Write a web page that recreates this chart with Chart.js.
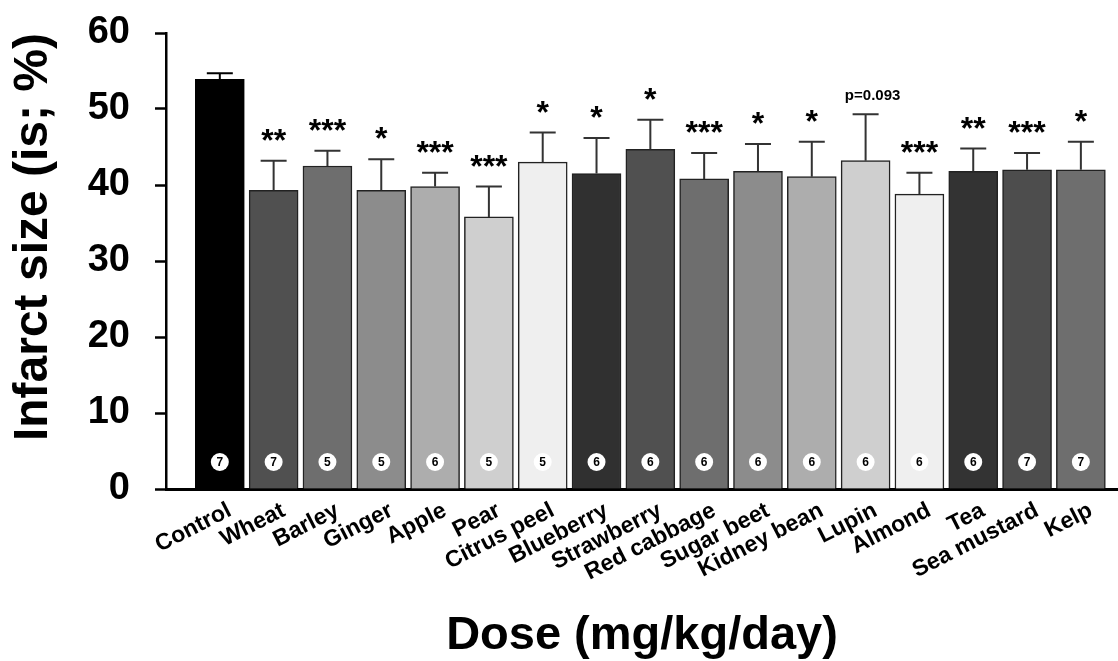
<!DOCTYPE html>
<html lang="en">
<head>
<meta charset="UTF-8">
<title>Infarct size by dose</title>
<script src="https://cdn.jsdelivr.net/npm/chart.js@4.4.1/dist/chart.umd.min.js"></script>
<style>
    html, body { margin: 0; padding: 0; background: #fff; }
</style>
</head>
<body>

<canvas id="chart" width="1118" height="661"></canvas>

<script>
    // values (mean and upper error bar, % infarct size)
    const foods = ['Control', 'Wheat', 'Barley', 'Ginger', 'Apple', 'Pear', 'Citrus peel', 'Blueberry',
        'Strawberry', 'Red cabbage', 'Sugar beet', 'Kidney bean', 'Lupin', 'Almond', 'Tea', 'Sea mustard', 'Kelp'];
    const infarct = [53.9, 39.3, 42.5, 39.3, 39.8, 35.8, 43.0, 41.5, 44.7, 40.8, 41.8, 41.1, 43.2, 38.8, 41.8, 42.0, 42.0];
    const errUp = [0.8, 3.9, 2.0, 4.1, 1.8, 4.0, 3.9, 4.7, 3.9, 3.4, 3.6, 4.6, 6.1, 2.8, 3.0, 2.2, 3.7];
    const nRats = [7, 7, 5, 5, 6, 5, 5, 6, 6, 6, 6, 6, 6, 6, 6, 7, 7];
    const sig = ['', '**', '***', '*', '***', '***', '*', '*', '*', '***', '*', '*', 'p=0.093', '***', '**', '***', '*'];
    const yTicks = [0, 10, 20, 30, 40, 50, 60];

    const barFill = ['#000000', '#505050', '#6e6e6e', '#8c8c8c', '#adadad', '#cfcfcf', '#efefef', '#303030',
        '#505050', '#6e6e6e', '#8c8c8c', '#adadad', '#cfcfcf', '#efefef', '#333333', '#4d4d4d', '#6e6e6e'];

    const FONT = "'Liberation Sans', Arial, sans-serif";

    const overlay = {
        id: 'overlay',
        afterDatasetsDraw(chart) {
            const ctx = chart.ctx;
            const y = chart.scales.y;
            const bars = chart.getDatasetMeta(0).data;
            ctx.save();
            bars.forEach((bar, i) => {
                const top = y.getPixelForValue(infarct[i] + errUp[i]);
                // error bar, upper arm only
                ctx.strokeStyle = i === 0 ? '#000' : '#333';
                ctx.lineWidth = 2;
                ctx.beginPath();
                ctx.moveTo(bar.x, bar.y);
                ctx.lineTo(bar.x, top);
                ctx.moveTo(bar.x - 13, top);
                ctx.lineTo(bar.x + 13, top);
                ctx.stroke();

                ctx.fillStyle = '#000';
                ctx.textAlign = 'center';
                if (sig[i].startsWith('p')) {
                    ctx.font = 'bold 15px ' + FONT;
                    ctx.textBaseline = 'middle';
                    ctx.fillText(sig[i], bar.x + 7, top - 18);
                } else if (sig[i]) {
                    ctx.font = 'bold 32px ' + FONT;
                    ctx.textBaseline = 'alphabetic';
                    ctx.fillText(sig[i], bar.x, top - 10);
                }

                // n per group
                const cy = y.bottom - 27;
                ctx.beginPath();
                ctx.arc(bar.x, cy, 9, 0, Math.PI * 2);
                ctx.fillStyle = '#fff';
                ctx.fill();
                ctx.fillStyle = '#000';
                ctx.font = 'bold 12px ' + FONT;
                ctx.textBaseline = 'middle';
                ctx.fillText(String(nRats[i]), bar.x, cy + 1);
            });
            ctx.restore();
        }
    };

    const ctx = document.getElementById('chart').getContext('2d');
    const myChart = new Chart(ctx, {
        type: 'bar',
        data: {
            datasets: [{
                data: infarct.map((v, i) => ({x: i, y: v})),
                backgroundColor: barFill,
                borderColor: barFill.map((c, i) => i === 0 ? '#000' : '#222'),
                borderWidth: 1.5,
                barThickness: 49
            }]
        },
        options: {
            responsive: false,
            animation: false,
            layout: {padding: {top: 33, right: 0, bottom: 0, left: 0}},
            plugins: {legend: {display: false}, tooltip: {enabled: false}},
            scales: {
                x: {
                    type: 'linear',
                    offset: false,
                    min: -1.0,
                    max: 16.69,
                    afterBuildTicks: s => { s.ticks = foods.map((f, i) => ({value: i})); },
                    afterFit: s => { s.height = 172; },
                    grid: {display: false, offset: false},
                    border: {display: true, color: '#000', width: 3},
                    ticks: {
                        autoSkip: false,
                        maxRotation: 27,
                        minRotation: 27,
                        padding: 0,
                        labelOffset: 10,
                        color: '#000',
                        font: {family: FONT, size: 23, weight: 'bold'},
                        callback: v => foods[v]
                    },
                    title: {
                        display: true,
                        text: 'Dose (mg/kg/day)',
                        color: '#000',
                        font: {family: FONT, size: 47, weight: 'bold', lineHeight: 1},
                        padding: {top: 0, bottom: 1}
                    }
                },
                y: {
                    min: 0,
                    max: 60,
                    afterBuildTicks: s => { s.ticks = yTicks.map(v => ({value: v})); },
                    // fixed axis position; tick padding must not push the plot top down
                    afterFit: s => { s.width = 166; s.paddingTop = 0; s.paddingBottom = 0; },
                    grid: {display: true, drawOnChartArea: false, drawTicks: true, tickLength: 11, tickColor: '#000', tickWidth: 2.5},
                    border: {display: true, color: '#000', width: 2.5},
                    ticks: {
                        padding: 25,
                        color: '#000',
                        font: {family: FONT, size: 38, weight: 'bold'}
                    },
                    title: {
                        display: true,
                        text: 'Infarct size (is; %)',
                        align: 'end',
                        color: '#000',
                        font: {family: FONT, size: 48, weight: 'bold', lineHeight: 1.2},
                        padding: {top: 5, bottom: 0}
                    }
                }
            }
        },
        plugins: [overlay]
    });
</script>

</body>
</html>
